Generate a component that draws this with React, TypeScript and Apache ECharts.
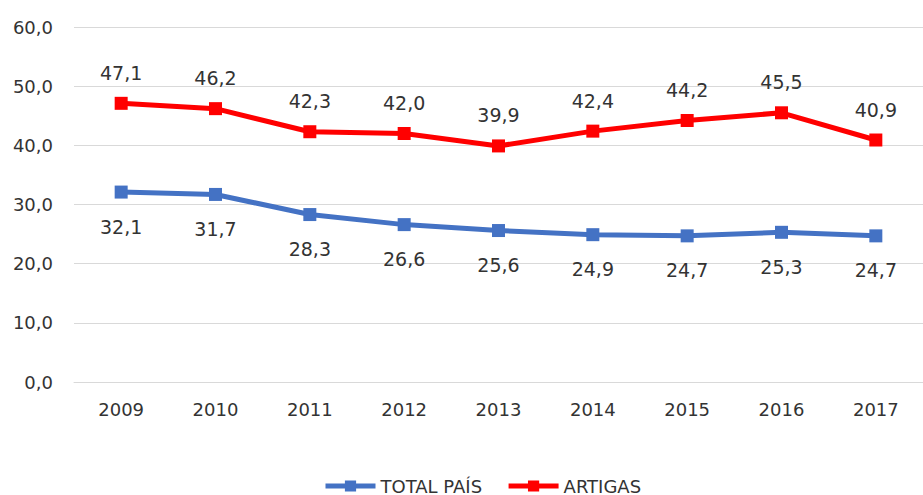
import React, { useEffect, useRef } from "react";
import * as echarts from "echarts";

const years = ["2009", "2010", "2011", "2012", "2013", "2014", "2015", "2016", "2017"];
const totalPais = [32.1, 31.7, 28.3, 26.6, 25.6, 24.9, 24.7, 25.3, 24.7];
const artigas = [47.1, 46.2, 42.3, 42.0, 39.9, 42.4, 44.2, 45.5, 40.9];
const seriesNames = ["TOTAL PAÍS", "ARTIGAS"];

const FONT = "DejaVu Sans";
const TEXT = "#333333";
const fmt = (v: number) => v.toFixed(1).replace(".", ",");

export default function App() {
  const ref = useRef<HTMLDivElement>(null);
  useEffect(() => {
    document.body.style.margin = "0";
    const chart = echarts.init(ref.current!, undefined, { renderer: "svg" });
    chart.setOption({
      animation: false,
      backgroundColor: "#ffffff",
      grid: { left: 74, top: 27, width: 863, height: 355, containLabel: false },
      legend: {
        left: 323,
        top: 476,
        padding: 0,
        itemWidth: 50,
        itemHeight: 14,
        itemGap: 24,
        lineStyle: { width: 5 },
        textStyle: { fontFamily: FONT, fontSize: 18, color: TEXT, lineHeight: 20 },
        data: seriesNames,
      },
      xAxis: {
        type: "category",
        data: years,
        boundaryGap: true,
        axisLine: { lineStyle: { color: "#D9D9D9", width: 1 } },
        axisTick: { show: false },
        axisLabel: { fontFamily: FONT, fontSize: 18, color: TEXT, margin: 18 },
      },
      yAxis: {
        type: "value",
        min: 0,
        max: 60,
        interval: 10,
        axisLine: { show: false },
        axisTick: { show: false },
        splitLine: { lineStyle: { color: "#D9D9D9", width: 1 } },
        axisLabel: {
          fontFamily: FONT,
          fontSize: 18,
          color: TEXT,
          margin: 21,
          formatter: (v: number) => fmt(v),
        },
      },
      series: [
        {
          name: seriesNames[0],
          type: "line",
          data: totalPais,
          symbol: "rect",
          symbolSize: 13,
          lineStyle: { color: "#4472C4", width: 5 },
          itemStyle: { color: "#4472C4" },
          label: {
            show: true,
            position: "bottom",
            distance: 17,
            fontFamily: FONT,
            fontSize: 19,
            lineHeight: 22,
            color: TEXT,
            formatter: (p: any) => fmt(p.value),
          },
        },
        {
          name: seriesNames[1],
          type: "line",
          data: artigas,
          symbol: "rect",
          symbolSize: 13,
          lineStyle: { color: "#FF0000", width: 5 },
          itemStyle: { color: "#FF0000" },
          label: {
            show: true,
            position: "top",
            distance: 13,
            fontFamily: FONT,
            fontSize: 19,
            lineHeight: 22,
            color: TEXT,
            formatter: (p: any) => fmt(p.value),
          },
        },
      ],
    });
    return () => chart.dispose();
  }, []);
  return <div ref={ref} style={{ width: 923, height: 495 }} />;
}
